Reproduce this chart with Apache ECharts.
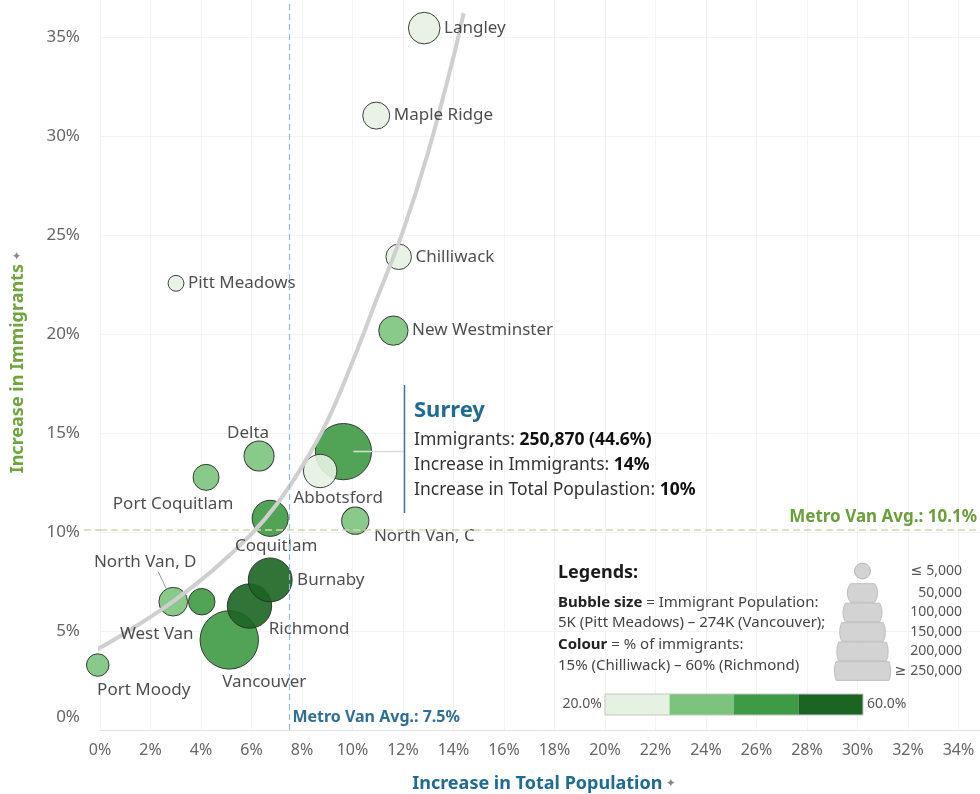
<!DOCTYPE html>
<html><head><meta charset="utf-8">
<script src="https://cdn.jsdelivr.net/npm/echarts@6/dist/echarts.min.js"></script>
<style>html,body{margin:0;padding:0;background:#fff}#main{width:980px;height:794px}</style>
</head><body><div id="main"></div>
<script>
// ---------- data ----------
const cities     = ['Langley','Maple Ridge','Chilliwack','Pitt Meadows','New Westminster','Delta','Port Coquitlam','Surrey','Abbotsford','Coquitlam','North Van, C','Vancouver','Richmond','Burnaby','North Van, D','West Van','Port Moody'];
const popGrowth  = [12.84, 10.94, 11.83, 3.01, 11.62, 6.30, 4.20, 9.64, 8.72, 6.74, 10.11, 5.12, 5.92, 6.74, 2.90, 4.03, -0.09];
const immGrowth  = [35.45, 31.03, 23.90, 22.56, 20.17, 13.84, 12.76, 14.06, 13.08, 10.69, 10.57, 4.55, 6.26, 7.58, 6.48, 6.48, 3.28];
const immigrants = [57000, 36000, 30000, 5000, 46000, 49000, 32000, 250870, 66000, 82000, 37000, 274000, 140000, 136000, 43000, 34000, 20000];
const immShare   = [20, 19, 15, 22, 35, 33, 31, 44.6, 25, 42, 37, 42, 60, 50.5, 31, 41, 33];
const trendX     = [-0.5, 1, 2.9, 4.5, 6, 7, 8, 9, 10, 11, 12, 13, 14, 14.4];
const trendY     = [3.8, 4.9, 6.5, 8.1, 9.9, 11.4, 13.3, 15.6, 18.6, 21.9, 25.2, 29.2, 34.0, 36.2];
const metroAvgPop = 7.5;
const metroAvgImm = 10.1;
const sizeLegendValues = [5000, 50000, 100000, 150000, 200000, 250000];
const sizeLegendLabels = ['≤ 5,000','50,000','100,000','150,000','200,000','≥ 250,000'];
const colorBins    = [20, 30, 40, 50, 60];
const colorPalette = ['#e5f2e2','#7cc47d','#3e9a44','#1c6422'];

// ---------- styles ----------
const FONT = "'Noto Sans', 'DejaVu Sans', sans-serif";
const radiusOf = v => 4.6 + 0.047 * Math.sqrt(v);
const labelLayout = {
  'Langley': {position:'right', distance:4},
  'Maple Ridge': {position:'right', distance:4},
  'Chilliwack': {position:'right', distance:4},
  'Pitt Meadows': {position:'right', distance:4},
  'New Westminster': {position:'right', distance:4},
  'Delta': {position:'top', offset:[-11,6]},
  'Port Coquitlam': {position:'bottom', offset:[-33,0]},
  'Surrey': {show:false},
  'Abbotsford': {position:'bottom', offset:[18,-3]},
  'Coquitlam': {position:'bottom', offset:[6,-4]},
  'North Van, C': {position:'right', offset:[0,15]},
  'Vancouver': {position:'bottom', offset:[35,0]},
  'Richmond': {position:'right', offset:[-8,23]},
  'Burnaby': {position:'right'},
  'North Van, D': {position:'top', offset:[-28,-12]},
  'West Van': {position:'bottom', offset:[-45,6]},
  'Port Moody': {position:'bottom', offset:[46,0]}
};

const points = cities.map((c,i) => [popGrowth[i], immGrowth[i], immigrants[i], immShare[i], c]);
const trend = trendX.map((x,i) => [x, trendY[i]]);

const chart = echarts.init(document.getElementById('main'), null, {renderer:'canvas'});
const pieces = colorPalette.map((col,i) => {
  const p = {color: col};
  if (i > 0) p.gte = colorBins[i]; else p.min = 0;
  if (i < colorPalette.length - 1) p.lt = colorBins[i+1];
  return p;
});

chart.setOption({
  animation: false,
  backgroundColor: '#fff',
  textStyle: {fontFamily: FONT},
  grid: {left: 100, right: -29, top: -62, bottom: 64, containLabel: false, outerBoundsMode: 'none'},
  xAxis: {
    type: 'value', min: 0, max: 36, interval: 2,
    axisLine: {show: true, lineStyle: {color: '#e3e3e3'}},
    axisTick: {show: false},
    splitLine: {show: true, lineStyle: {color: '#f3f3f3'}},
    axisLabel: {formatter: '{value}%', color: '#666', fontSize: 16, margin: 12, fontFamily: FONT, showMaxLabel: false}
  },
  yAxis: {
    type: 'value', min: 0, max: 40, interval: 5,
    axisLine: {show: false}, axisTick: {show: false},
    splitLine: {show: true, lineStyle: {color: '#f3f3f3'}},
    axisLabel: {
      formatter: v => v === 0 ? '{z|0%}' : v + '%',
      rich: {z: {padding: [0,0,26,0], fontSize: 17, color: '#666', fontFamily: FONT}},
      color: '#666', fontSize: 17, margin: 20, fontFamily: FONT, showMaxLabel: false
    }
  },
  visualMap: {type: 'piecewise', show: false, dimension: 3, seriesIndex: 0, pieces: pieces},
  series: [
    {
      type: 'scatter', z: 2, silent: true, clip: false,
      data: points,
      symbolSize: v => 2 * radiusOf(v[2]),
      itemStyle: {opacity: 0.9, borderColor: '#2a2a2a', borderWidth: 1},
      markLine: {
        silent: true, symbol: 'none', animation: false,
        label: {show: false},
        data: [
          {xAxis: metroAvgPop, lineStyle: {color: '#8fbdd6', type: [6,4], width: 1.2}},
          {yAxis: metroAvgImm, lineStyle: {color: '#d5d4b4', type: [7,4], width: 1.5}}
        ]
      }
    },
    {
      type: 'line', z: 3, silent: true, clip: false, smooth: 0.4, showSymbol: false,
      data: trend,
      lineStyle: {color: '#cfcfcf', width: 4}
    },
    {
      type: 'scatter', z: 4, silent: true, clip: false,
      data: points.map(p => ({
        value: p,
        label: Object.assign({show: true, formatter: p[4], color: '#222', fontSize: 17, fontFamily: FONT}, labelLayout[p[4]])
      })),
      symbolSize: v => 2 * radiusOf(v[2]),
      itemStyle: {color: 'rgba(0,0,0,0)', borderWidth: 0}
    }
  ]
});

// ---------- annotations & legends ----------
const px = (x, y) => chart.convertToPixel({gridIndex: 0}, [x, y]);
const sIdx = cities.indexOf('Surrey');
const sP = px(popGrowth[sIdx], immGrowth[sIdx]);
const nvdIdx = cities.indexOf('North Van, D');
const nvdP = px(popGrowth[nvdIdx], immGrowth[nvdIdx]);
const vLineX = px(metroAvgPop, 0)[0];
const hLineY = px(0, metroAvgImm)[1];

const g = [];
// extend the horizontal average line to the left of the 0% gridline, as in the reference
g.push({type:'line', shape:{x1: 84, y1: hLineY, x2: 100, y2: hLineY}, style:{stroke:'#d5d4b4', lineWidth: 1.5, lineDash:[7,4]}});
// avg labels
g.push({type:'text', x: vLineX + 3, y: 717, style:{text:'Metro Van Avg.: ' + metroAvgPop + '%', fill:'#2e6f96', font:'bold 16px ' + FONT, align:'left', verticalAlign:'middle'}});
g.push({type:'text', x: 977, y: hLineY - 13, style:{text:'Metro Van Avg.: ' + metroAvgImm + '%', fill:'#6a9f3a', font:'bold 17px ' + FONT, align:'right', verticalAlign:'middle'}});
// axis titles
g.push({type:'text', x: 544, y: 784, style:{text:'{t|Increase in Total Population} {p|✦}', align:'center', verticalAlign:'middle',
  rich:{t:{font:'bold 18px ' + FONT, fill:'#1f6b94'}, p:{font:'12px ' + FONT, fill:'#8a8a8a'}}}});
g.push({type:'text', x: 18, y: 362, rotation: Math.PI/2, style:{text:'{t|Increase in Immigrants} {p|✦}', align:'center', verticalAlign:'middle',
  rich:{t:{font:'bold 18px ' + FONT, fill:'#6ea53c'}, p:{font:'12px ' + FONT, fill:'#8a8a8a'}}}});
// Surrey annotation
g.push({type:'line', shape:{x1: sP[0] + 10, y1: sP[1], x2: 404, y2: sP[1]}, style:{stroke:'#d6dde0', lineWidth: 1.5}, z: 10});
g.push({type:'line', shape:{x1: 404.5, y1: 385, x2: 404.5, y2: 513}, style:{stroke:'#46729a', lineWidth: 1.5}, z: 10});
g.push({type:'text', x: 414, y: 411, z: 10, style:{text: cities[sIdx], fill:'#1f6b94', font:'bold 22px ' + FONT, align:'left', verticalAlign:'middle'}});
const annoLines = [
  ['Immigrants: ', immigrants[sIdx].toLocaleString('en-US') + ' (' + immShare[sIdx].toFixed(1) + '%)', 440],
  ['Increase in Immigrants: ', Math.round(immGrowth[sIdx]) + '%', 465],
  ['Increase in Total Populastion: ', Math.round(popGrowth[sIdx]) + '%', 490]
];
annoLines.forEach(l => g.push({type:'text', x: 414, y: l[2], z: 10, style:{text:'{n|' + l[0] + '}{b|' + l[1] + '}', align:'left', verticalAlign:'middle',
  rich:{n:{font:'17.5px ' + FONT, fill:'#333'}, b:{font:'bold 17.5px ' + FONT, fill:'#111'}}}}));
// North Van, D leader line
g.push({type:'line', shape:{x1: nvdP[0] - 15, y1: nvdP[1] - 30, x2: nvdP[0] - 7, y2: nvdP[1] - 13}, style:{stroke:'#9a9a9a', lineWidth: 1}, z: 10});
// Legend texts
g.push({type:'text', x: 558, y: 573, style:{text:'Legends:', fill:'#1a1a1a', font:'bold 18px ' + FONT, align:'left', verticalAlign:'middle'}});
const legLines = [
  ['Bubble size', ' = Immigrant Population:', 603],
  ['', '5K (Pitt Meadows) – 274K (Vancouver);', 623],
  ['Colour', ' = % of immigrants:', 645],
  ['', '15% (Chilliwack) – 60% (Richmond)', 666]
];
legLines.forEach(l => g.push({type:'text', x: 558, y: l[2], style:{text:(l[0] ? '{b|' + l[0] + '}' : '') + '{n|' + l[1] + '}', align:'left', verticalAlign:'middle',
  rich:{b:{font:'bold 15px ' + FONT, fill:'#222'}, n:{font:'15px ' + FONT, fill:'#444'}}}}));
// size legend
const cx = 862.5;
const bandCenters = [571, 593, 612.5, 632, 651.5, 671];
sizeLegendValues.forEach((v, i) => {
  const r = radiusOf(v);
  const cy = bandCenters[i];
  if (i === 0) {
    g.push({type:'circle', shape:{cx: cx, cy: cy, r: r}, style:{fill:'#d3d3d3', stroke:'#b5b5b5', lineWidth: 1}});
  } else {
    const h = 9.3;
    const a = Math.asin(h / r);
    const pts = [];
    const N = 12;
    for (let k = 0; k <= N; k++) { const t = -a + 2*a*k/N; pts.push([cx + r*Math.cos(t), cy + r*Math.sin(t)]); }
    for (let k = 0; k <= N; k++) { const t = Math.PI - a + 2*a*k/N; pts.push([cx + r*Math.cos(t), cy + r*Math.sin(t)]); }
    g.push({type:'polygon', shape:{points: pts}, style:{fill:'#d3d3d3', stroke:'#bdbdbd', lineWidth: 1}});
  }
  g.push({type:'text', x: 962, y: cy, style:{text: sizeLegendLabels[i], fill:'#555', font:'14px ' + FONT, align:'right', verticalAlign:'middle'}});
});
// color legend
const barX0 = 605, barX1 = 863, barY = 694, barH = 21;
const segW = (barX1 - barX0) / colorPalette.length;
colorPalette.forEach((c, i) => g.push({type:'rect', shape:{x: barX0 + i*segW, y: barY, width: segW, height: barH}, style:{fill: c}}));
g.push({type:'rect', shape:{x: barX0, y: barY, width: barX1 - barX0, height: barH}, style:{fill:'none', stroke:'#c4c4c4', lineWidth: 1}});
g.push({type:'text', x: barX0 - 3, y: barY + barH/2, style:{text: colorBins[0].toFixed(1) + '%', fill:'#555', font:'14px ' + FONT, align:'right', verticalAlign:'middle'}});
g.push({type:'text', x: barX1 + 4, y: barY + barH/2, style:{text: colorBins[colorBins.length-1].toFixed(1) + '%', fill:'#555', font:'14px ' + FONT, align:'left', verticalAlign:'middle'}});

chart.setOption({graphic: {elements: g}});
</script>
</body></html>
